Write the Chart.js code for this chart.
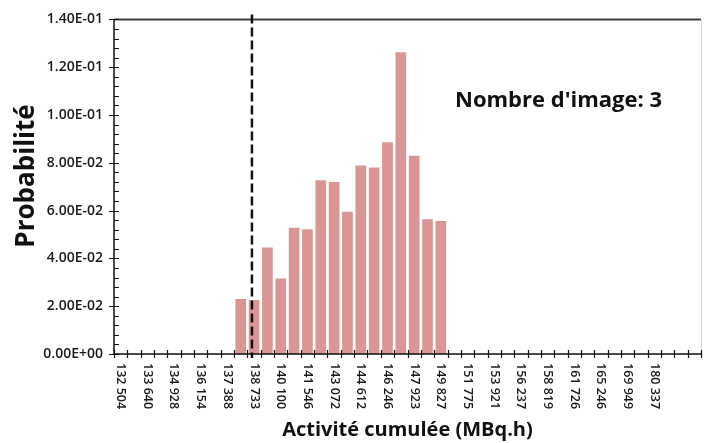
<!DOCTYPE html>
<html>
<head>
<meta charset="utf-8">
<script src="https://cdn.jsdelivr.net/npm/chart.js@4.4.1/dist/chart.umd.min.js"></script>
<style>
  html, body { margin: 0; padding: 0; background: #fff; }
  canvas { display: block; }
</style>
</head>
<body>
<canvas id="histo" width="704" height="443"></canvas>
<script>
// Catégories de l'axe X (une sur deux seulement est affichée sur l'original)
const activites = [
  '132 504', '', '133 640', '', '134 928', '', '136 154', '', '137 388', '',
  '138 733', '', '140 100', '', '141 546', '', '143 072', '', '144 612', '',
  '146 246', '', '147 923', '', '149 827', '', '151 775', '', '153 921', '',
  '156 237', '', '158 819', '', '161 726', '', '165 246', '', '169 949', '',
  '180 337', '', '', ''
];

// Probabilité par classe (null = pas de barre)
const probabilites = [
  null, null, null, null, null, null, null, null, null,
  0.0230, 0.0226, 0.0446, 0.0316, 0.0528, 0.0522, 0.0727, 0.0720,
  0.0595, 0.0789, 0.0780, 0.0886, 0.1263, 0.0829, 0.0564, 0.0557,
  null, null, null, null, null, null, null, null, null, null,
  null, null, null, null, null, null, null, null, null
];

const nbImages = 3;
const seuil = 9.84;        // position de la ligne pointillée, en index de catégorie
const yMax = 0.14;
const yPas = 0.02;
const yPasMineur = 0.004;

const police = '"Open Sans", "Liberation Sans", sans-serif';

// 0.14 -> "1.40E-01"
function sci(v) {
  if (Math.abs(v) < 1e-12) return '0.00E+00';
  const parts = v.toExponential(2).split('e');
  const e = parseInt(parts[1], 10);
  return parts[0] + 'E' + (e < 0 ? '-' : '+') + String(Math.abs(e)).padStart(2, '0');
}

const decor = {
  id: 'decor',
  afterDatasetsDraw(chart) {
    const { ctx, chartArea: a, scales: { x, y } } = chart;
    ctx.save();

    // cadre haut et droit
    ctx.strokeStyle = '#d9d9d9';
    ctx.lineWidth = 1;
    ctx.beginPath();
    ctx.moveTo(a.right + 0.5, a.top);
    ctx.lineTo(a.right + 0.5, a.bottom);
    ctx.stroke();
    ctx.strokeStyle = '#404040';
    ctx.lineWidth = 2;
    ctx.beginPath();
    ctx.moveTo(a.left, a.top);
    ctx.lineTo(a.right, a.top);
    ctx.stroke();

    // axes
    ctx.strokeStyle = '#111';
    ctx.lineWidth = 1.5;
    ctx.beginPath();
    ctx.moveTo(a.left, a.top);
    ctx.lineTo(a.left, a.bottom);
    ctx.moveTo(a.left, a.bottom);
    ctx.lineTo(a.right, a.bottom);
    ctx.stroke();

    // graduations Y : majeures croisées, mineures vers l'intérieur
    ctx.lineWidth = 1.2;
    ctx.beginPath();
    const nMin = Math.round(yMax / yPasMineur);
    for (let i = 0; i <= nMin; i++) {
      const py = Math.round(y.getPixelForValue(i * yPasMineur)) + 0.5;
      const majeur = i % Math.round(yPas / yPasMineur) === 0;
      ctx.moveTo(majeur ? a.left - 5 : a.left, py);
      ctx.lineTo(a.left + 5, py);
    }
    ctx.stroke();

    // graduations X aux limites des catégories
    const demi = (x.getPixelForValue(1) - x.getPixelForValue(0)) / 2;
    ctx.beginPath();
    for (let i = 0; i <= activites.length; i++) {
      const px = Math.round(x.getPixelForValue(i) - demi) + 0.5;
      ctx.moveTo(px, a.bottom - 4);
      ctx.lineTo(px, a.bottom + 4);
    }
    ctx.stroke();

    // étiquettes X tournées de 90°
    ctx.fillStyle = '#1a1a1a';
    ctx.font = '600 12.5px ' + police;
    ctx.textAlign = 'left';
    ctx.textBaseline = 'middle';
    activites.forEach((lab, i) => {
      if (!lab) return;
      ctx.save();
      ctx.translate(x.getPixelForValue(i), a.bottom + 9);
      ctx.rotate(Math.PI / 2);
      ctx.fillText(lab, 0, 0);
      ctx.restore();
    });

    // ligne pointillée du seuil
    const i0 = Math.floor(seuil);
    const px0 = x.getPixelForValue(i0);
    const sx = px0 + (seuil - i0) * (x.getPixelForValue(i0 + 1) - px0);
    ctx.strokeStyle = '#111';
    ctx.lineWidth = 2.5;
    ctx.setLineDash([9, 4]);
    ctx.beginPath();
    ctx.moveTo(sx, a.top - 5);
    ctx.lineTo(sx, a.bottom + 4);
    ctx.stroke();
    ctx.setLineDash([]);

    // titres
    ctx.fillStyle = '#111';
    ctx.textAlign = 'center';
    ctx.textBaseline = 'middle';
    ctx.font = 'bold 20px ' + police;
    ctx.fillText('Activité cumulée (MBq.h)', (a.left + a.right) / 2, 430);
    ctx.save();
    ctx.translate(27, 176);
    ctx.rotate(-Math.PI / 2);
    ctx.font = 'bold 26px ' + police;
    ctx.fillText('Probabilité', 0, 0);
    ctx.restore();

    // annotation
    ctx.textAlign = 'left';
    ctx.font = 'bold 22px ' + police;
    ctx.fillText("Nombre d'image: " + nbImages, 455, 101);

    ctx.restore();
  }
};

new Chart(document.getElementById('histo'), {
  type: 'bar',
  data: {
    labels: activites,
    datasets: [{
      data: probabilites,
      backgroundColor: '#d99694',
      borderWidth: 0,
      barPercentage: 0.8,
      categoryPercentage: 1.0
    }]
  },
  options: {
    responsive: false,
    animation: false,
    layout: { padding: { top: 19, right: 3, bottom: 0, left: 0 } },
    plugins: { legend: { display: false }, tooltip: { enabled: false } },
    scales: {
      x: {
        grid: { display: false, drawTicks: false },
        border: { display: false },
        ticks: { display: false },
        afterFit(s) { s.height = 89; }
      },
      y: {
        min: 0,
        max: yMax,
        grid: { display: false, drawTicks: false },
        border: { display: false },
        ticks: {
          stepSize: yPas,
          padding: 11,
          color: '#1a1a1a',
          font: { family: police, size: 14, weight: '600' },
          callback: (v) => sci(v)
        },
        afterFit(s) { s.width = 114; }
      }
    }
  },
  plugins: [decor]
});
</script>
</body>
</html>
